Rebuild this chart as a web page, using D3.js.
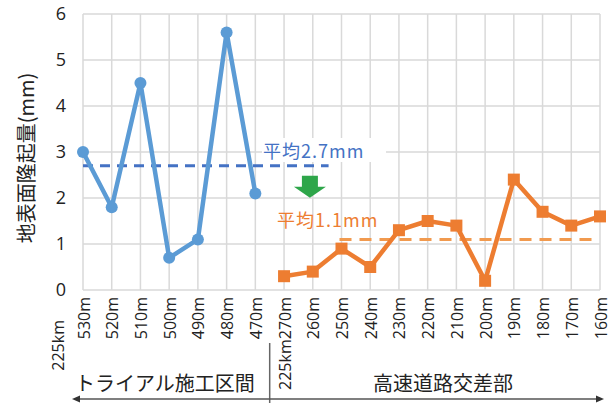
<!DOCTYPE html>
<html>
<head>
<meta charset="utf-8">
<script src="https://cdn.jsdelivr.net/npm/d3@7/dist/d3.min.js"></script>
<style>
  html, body { margin: 0; padding: 0; background: #fff; }
  svg text { font-family: "Noto Sans CJK JP", "Noto Sans", sans-serif; }
</style>
</head>
<body>
<svg id="chart" width="614" height="403"></svg>
<script>
// Measurement points along the route (distance within the 225 km section)
const categories = ["530m", "520m", "510m", "500m", "490m", "480m", "470m",
  "270m", "260m", "250m", "240m", "230m", "220m", "210m", "200m", "190m", "180m", "170m", "160m"];
const tickLabels = ["530m", "520m", "510m", "500m", "490m", "480m", "470m",
  "225km270m", "260m", "250m", "240m", "230m", "220m", "210m", "200m", "190m", "180m", "170m", "160m"];

// Trial construction section
const trialCats = ["530m", "520m", "510m", "500m", "490m", "480m", "470m"];
const trialValues = [3.0, 1.8, 4.5, 0.7, 1.1, 5.6, 2.1];
const trialMean = 2.7;

// Expressway intersection section
const junctionCats = ["270m", "260m", "250m", "240m", "230m", "220m", "210m", "200m", "190m", "180m", "170m", "160m"];
const junctionValues = [0.3, 0.4, 0.9, 0.5, 1.3, 1.5, 1.4, 0.2, 2.4, 1.7, 1.4, 1.6];
const junctionMean = 1.1;

const yTicks = [0, 1, 2, 3, 4, 5, 6];

const svg = d3.select("#chart");
const plotLeft = 83, plotRight = 600, plotTop = 14, plotBottom = 290;

const x = d3.scalePoint().domain(categories).range([plotLeft, plotRight]);
const y = d3.scaleLinear().domain([0, 6]).range([plotBottom, plotTop]);
const step = x.step();

const grid = "#d9d9d9";

// Gridlines
svg.append("g").selectAll("line").data(yTicks).join("line")
  .attr("x1", plotLeft).attr("x2", plotRight)
  .attr("y1", d => y(d)).attr("y2", d => y(d))
  .attr("stroke", grid).attr("stroke-width", 1.5);
svg.append("g").selectAll("line").data(categories).join("line")
  .attr("x1", d => x(d)).attr("x2", d => x(d))
  .attr("y1", plotTop).attr("y2", plotBottom)
  .attr("stroke", grid).attr("stroke-width", 1.5);

// Y axis tick labels
const yAxis = d3.axisLeft(y).tickValues(yTicks).tickSize(0).tickPadding(17).tickFormat(d3.format("d"));
const gy = svg.append("g").attr("transform", `translate(${plotLeft},0)`).call(yAxis);
gy.select(".domain").remove();
gy.selectAll("text").attr("font-size", 18).attr("fill", "#222")
  .style("font-family", "'Open Sans', 'Noto Sans', sans-serif");

// X axis tick labels (rotated)
const xAxis = d3.axisBottom(x).tickSize(0).tickFormat((d, i) => tickLabels[i]);
const gx = svg.append("g").attr("transform", `translate(0,${plotBottom})`).call(xAxis);
gx.select(".domain").remove();
gx.selectAll("text")
  .attr("font-size", 16).attr("fill", "#222")
  .style("font-family", "'Open Sans', 'Noto Sans', sans-serif")
  .attr("text-anchor", "end")
  .attr("dominant-baseline", "central")
  .attr("transform", "translate(0,7) rotate(-90)")
  .attr("x", 0).attr("y", 0).attr("dy", null);

// Kilometre prefix for the first point
svg.append("text")
  .attr("transform", `translate(${x(categories[0]) - 25},${plotBottom + 30}) rotate(-90)`)
  .attr("text-anchor", "end").attr("dominant-baseline", "central")
  .attr("font-size", 16).attr("fill", "#222")
  .style("font-family", "'Open Sans', 'Noto Sans', sans-serif")
  .text("225km");

// Y axis title
svg.append("text")
  .attr("transform", `translate(25,${(plotTop + plotBottom) / 2 + 6}) rotate(-90)`)
  .attr("text-anchor", "middle").attr("dominant-baseline", "central")
  .attr("font-size", 20).attr("fill", "#222")
  .text("地表面隆起量(mm)");

// Mean lines
const blueMeanEnd = x("260m") + step * 0.55;
svg.append("line")
  .attr("x1", plotLeft).attr("x2", blueMeanEnd)
  .attr("y1", y(trialMean)).attr("y2", y(trialMean))
  .attr("stroke", "#4472c4").attr("stroke-width", 3).attr("stroke-dasharray", "10,7");
svg.append("line")
  .attr("x1", x("250m") - 2).attr("x2", plotRight - 2)
  .attr("y1", y(junctionMean)).attr("y2", y(junctionMean))
  .attr("stroke", "#f19a4f").attr("stroke-width", 3).attr("stroke-dasharray", "12,8");

// Mean labels with white backing
function meanLabel(txt, cx, cy, color) {
  return svg.append("text")
    .attr("x", cx).attr("y", cy)
    .attr("dominant-baseline", "central")
    .attr("font-size", 18).attr("fill", color)
    .style("letter-spacing", "1px")
    .text(txt);
}
svg.append("rect").attr("x", 262).attr("y", 138).attr("width", 124).attr("height", 24).attr("fill", "#fff");
meanLabel("平均2.7mm", 263, 150, "#4472c4");
meanLabel("平均1.1mm", 277, 219, "#ed7d31");

// Down arrow between the two means
const ax = x("270m") + step * 0.9;
svg.append("path")
  .attr("d", `M${ax - 8},${y(trialMean) + 10} h16 v11 h8 l-16,11 l-16,-11 h8 z`)
  .attr("fill", "#2ea64a");

// Series lines
const lineGen = (cats) => d3.line().x((d, i) => x(cats[i])).y(d => y(d));

svg.append("path").datum(trialValues)
  .attr("d", lineGen(trialCats))
  .attr("fill", "none").attr("stroke", "#5b9bd5").attr("stroke-width", 4.5)
  .attr("stroke-linejoin", "round");
svg.append("g").selectAll("circle").data(trialValues).join("circle")
  .attr("cx", (d, i) => x(trialCats[i])).attr("cy", d => y(d))
  .attr("r", 6).attr("fill", "#5b9bd5");

svg.append("path").datum(junctionValues)
  .attr("d", lineGen(junctionCats))
  .attr("fill", "none").attr("stroke", "#ed7d31").attr("stroke-width", 4.5)
  .attr("stroke-linejoin", "round");
svg.append("g").selectAll("rect").data(junctionValues).join("rect")
  .attr("x", (d, i) => x(junctionCats[i]) - 6).attr("y", d => y(d) - 6)
  .attr("width", 12).attr("height", 12).attr("fill", "#ed7d31");

// Section labels and range arrows
const sepX = x("470m") + step * 0.5;
svg.append("line").attr("x1", sepX).attr("x2", sepX).attr("y1", 343).attr("y2", 403)
  .attr("stroke", "#666").attr("stroke-width", 1.5);

svg.append("text").attr("x", 75).attr("y", 382)
  .attr("dominant-baseline", "central").attr("font-size", 20).attr("fill", "#222")
  .text("トライアル施工区間");
svg.append("text").attr("x", 443).attr("y", 382)
  .attr("text-anchor", "middle").attr("dominant-baseline", "central")
  .attr("font-size", 20).attr("fill", "#222")
  .text("高速道路交差部");

const ay = 399;
svg.append("line").attr("x1", 76).attr("x2", sepX).attr("y1", ay).attr("y2", ay)
  .attr("stroke", "#555").attr("stroke-width", 1.3);
svg.append("path").attr("d", `M72,${ay} l8,-3.5 v7 z`).attr("fill", "#333");
svg.append("line").attr("x1", sepX).attr("x2", plotRight).attr("y1", ay).attr("y2", ay)
  .attr("stroke", "#555").attr("stroke-width", 1.3);
svg.append("path").attr("d", `M604,${ay} l-8,-3.5 v7 z`).attr("fill", "#333");
</script>
</body>
</html>
